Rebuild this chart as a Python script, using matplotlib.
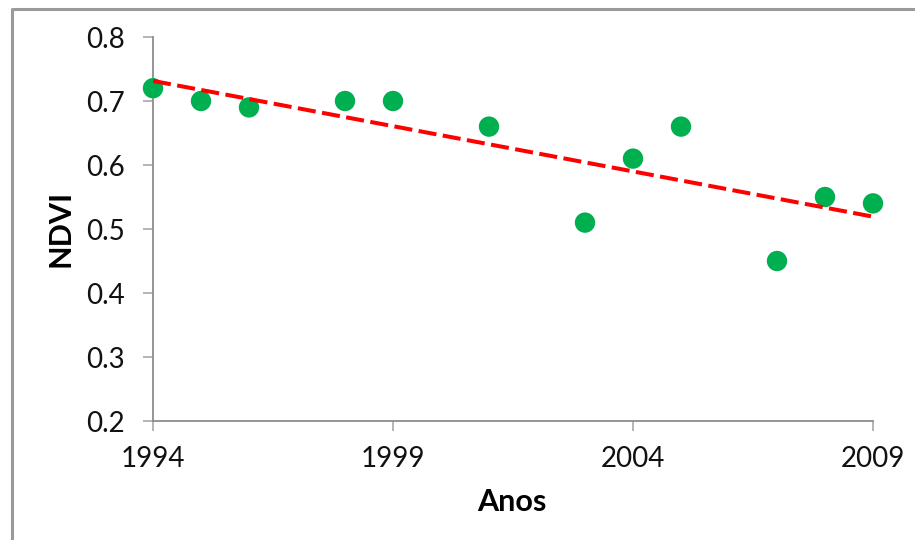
"""NDVI por ano com linha de tendência"""
import numpy as np
import matplotlib
matplotlib.use('Agg')
import matplotlib.pyplot as plt
from matplotlib.lines import Line2D

# Dados
anos = [1994, 1995, 1996, 1998, 1999, 2001, 2003, 2004, 2005, 2007, 2008, 2009]
ndvi = [0.72, 0.70, 0.69, 0.70, 0.70, 0.66, 0.51, 0.61, 0.66, 0.45, 0.55, 0.54]
x_ticks = [1994, 1999, 2004, 2009]
y_ticks = [0.2, 0.3, 0.4, 0.5, 0.6, 0.7, 0.8]

plt.rcParams['font.family'] = ['Lato', 'DejaVu Sans']

W, H = 915, 540
fig = plt.figure(figsize=(W / 100, H / 100), dpi=100)
fig.patch.set_facecolor('white')

# Moldura do gráfico (esquerda e topo)
frame = Line2D([12 / W, 12 / W, 1.0], [0.0, 1 - 9 / H, 1 - 9 / H],
               transform=fig.transFigure, color='#9a9a9a', linewidth=2.2)
fig.add_artist(frame)

ax = fig.add_axes([153 / W, 1 - 421 / H, (873 - 153) / W, (421 - 37) / H])

ax.scatter(anos, ndvi, s=215, color='#00B050', edgecolors='none', zorder=3,
           clip_on=False)

# Linha de tendência linear
coef = np.polyfit(anos, ndvi, 1)
xs = np.array([anos[0], anos[-1]])
ax.plot(xs, np.polyval(coef, xs), color='#FF0000', linewidth=2.9,
        linestyle=(0, (4.5, 1.6)), zorder=4)

ax.set_xlim(1994, 2009)
ax.set_ylim(0.2, 0.8)
ax.set_xticks(x_ticks)
ax.set_yticks(y_ticks)
ax.set_yticklabels([f'{v:.1f}' for v in y_ticks])

for side in ('top', 'right'):
    ax.spines[side].set_visible(False)
for side in ('left', 'bottom'):
    ax.spines[side].set_color('#8c8c8c')
    ax.spines[side].set_linewidth(1.3)

ax.tick_params(axis='both', direction='out', length=7.2, width=1.1,
               color='#a0a0a0', labelsize=20, labelcolor='#111111')
ax.tick_params(axis='y', pad=13)
ax.tick_params(axis='x', pad=11)

fig.text(60 / W, 1 - 228 / H, 'NDVI', rotation=90, fontsize=22,
         fontweight='bold', ha='center', va='center')
fig.text(512 / W, 1 - 502 / H, 'Anos', fontsize=22,
         fontweight='bold', ha='center', va='center')

plt.savefig('out.png', dpi=100)
plt.close()
